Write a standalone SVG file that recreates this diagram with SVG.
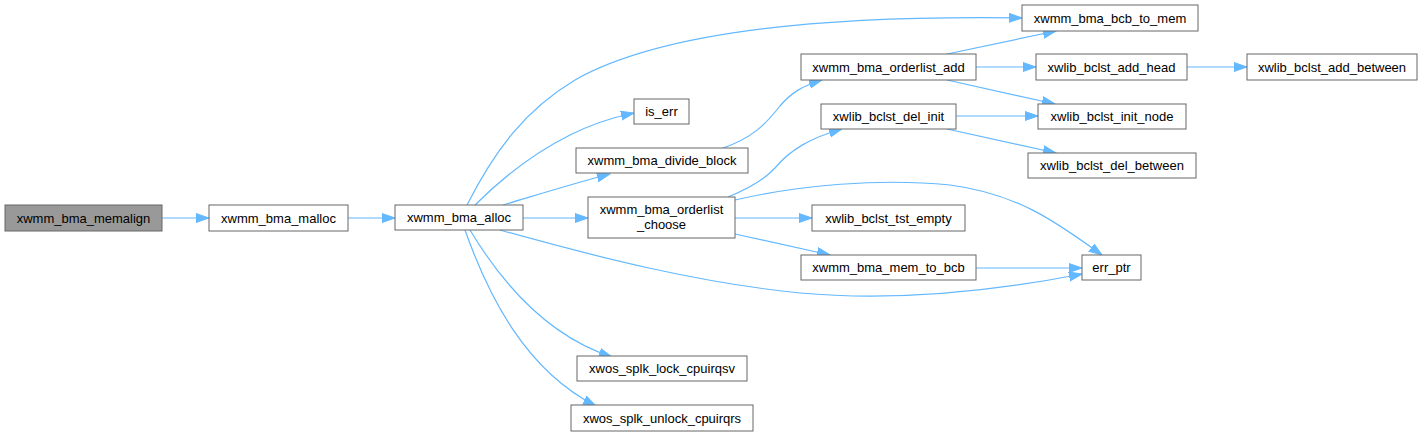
<svg xmlns="http://www.w3.org/2000/svg" width="1423" height="436" viewBox="0 0 1423 436">
<defs>
<style>
.n rect{fill:#fff;stroke:#666;stroke-width:1}
.n text{font-family:"Liberation Sans",Arial,sans-serif;font-size:13px;fill:#000;text-anchor:middle}
.e path{fill:none;stroke:#63b8ff;stroke-width:1.2}
</style>
<marker id="a" markerUnits="userSpaceOnUse" markerWidth="14" markerHeight="11" refX="13" refY="5" orient="auto"><path d="M0,0.5 L13,5 L0,9.5 z" fill="#63b8ff" stroke="#63b8ff"/></marker>
</defs>
<rect width="1423" height="436" fill="#fff"/>
<g class="e">
<path marker-end="url(#a)" d="M162,218 H209"/>
<path marker-end="url(#a)" d="M348,218 H395"/>
<path marker-end="url(#a)" d="M467,205 C495,150 525,110 575,80 C660,32 820,15 1022,18"/>
<path marker-end="url(#a)" d="M475,205 C500,180 530,155 570,135 C590,125 610,118 634,113"/>
<path marker-end="url(#a)" d="M503,205 C540,194 575,183 610,174"/>
<path marker-end="url(#a)" d="M523,218 H588"/>
<path marker-end="url(#a)" d="M500,230 C600,258 700,283 800,293 C900,302 1000,290 1082,274"/>
<path marker-end="url(#a)" d="M470,230 C500,280 545,335 612,357"/>
<path marker-end="url(#a)" d="M465,230 C488,295 525,370 596,406"/>
<path marker-end="url(#a)" d="M723,148 C752,138 765,125 780,106 C791,93 802,86 822,80"/>
<path marker-end="url(#a)" d="M728,197 C750,188 764,180 775,168 C790,150 810,138 842,129"/>
<path marker-end="url(#a)" d="M735,200 C800,185 880,178 950,185 C1020,194 1060,225 1102,255"/>
<path marker-end="url(#a)" d="M735,218 H812"/>
<path marker-end="url(#a)" d="M735,234 L830,255"/>
<path marker-end="url(#a)" d="M976,268 H1082"/>
<path marker-end="url(#a)" d="M947,54 L1056,31"/>
<path marker-end="url(#a)" d="M976,67 H1036"/>
<path marker-end="url(#a)" d="M947,80 L1055,104"/>
<path marker-end="url(#a)" d="M956,116 H1038"/>
<path marker-end="url(#a)" d="M947,129 L1056,153"/>
<path marker-end="url(#a)" d="M1187,67 H1247"/>
</g>
<g id="memalign" class="n"><rect x="5" y="205" width="157" height="26" style="fill:#999"/><text x="83.5" y="222.5">xwmm_bma_memalign</text></g>
<g id="malloc" class="n"><rect x="209" y="205" width="139" height="26"/><text x="278.5" y="222.5">xwmm_bma_malloc</text></g>
<g id="alloc" class="n"><rect x="395" y="205" width="128" height="25"/><text x="459" y="222">xwmm_bma_alloc</text></g>
<g id="is_err" class="n"><rect x="634" y="99" width="55" height="25"/><text x="661.5" y="116">is_err</text></g>
<g id="divide_block" class="n"><rect x="576" y="148" width="172" height="25"/><text x="662" y="165">xwmm_bma_divide_block</text></g>
<g id="orderlist_choose" class="n"><rect x="588" y="197" width="147" height="41"/><text x="661.5" y="214">xwmm_bma_orderlist</text><text x="661.5" y="229">_choose</text></g>
<g id="bcb_to_mem" class="n"><rect x="1022" y="5" width="176" height="26"/><text x="1110" y="22.5">xwmm_bma_bcb_to_mem</text></g>
<g id="orderlist_add" class="n"><rect x="801" y="54" width="175" height="26"/><text x="888.5" y="71.5">xwmm_bma_orderlist_add</text></g>
<g id="add_head" class="n"><rect x="1036" y="54" width="151" height="26"/><text x="1111.5" y="71.5">xwlib_bclst_add_head</text></g>
<g id="add_between" class="n"><rect x="1247" y="54" width="170" height="26"/><text x="1332" y="71.5">xwlib_bclst_add_between</text></g>
<g id="del_init" class="n"><rect x="821" y="104" width="135" height="25"/><text x="888.5" y="121">xwlib_bclst_del_init</text></g>
<g id="init_node" class="n"><rect x="1038" y="104" width="148" height="25"/><text x="1112" y="121">xwlib_bclst_init_node</text></g>
<g id="del_between" class="n"><rect x="1028" y="153" width="168" height="25"/><text x="1112" y="170">xwlib_bclst_del_between</text></g>
<g id="tst_empty" class="n"><rect x="812" y="205" width="153" height="26"/><text x="888.5" y="222.5">xwlib_bclst_tst_empty</text></g>
<g id="mem_to_bcb" class="n"><rect x="801" y="255" width="175" height="25"/><text x="888.5" y="272">xwmm_bma_mem_to_bcb</text></g>
<g id="err_ptr" class="n"><rect x="1082" y="255" width="59" height="25"/><text x="1111.5" y="272">err_ptr</text></g>
<g id="lock" class="n"><rect x="577" y="356" width="170" height="25"/><text x="662" y="373">xwos_splk_lock_cpuirqsv</text></g>
<g id="unlock" class="n"><rect x="571" y="405" width="182" height="26"/><text x="662" y="422.5">xwos_splk_unlock_cpuirqrs</text></g>
</svg>
